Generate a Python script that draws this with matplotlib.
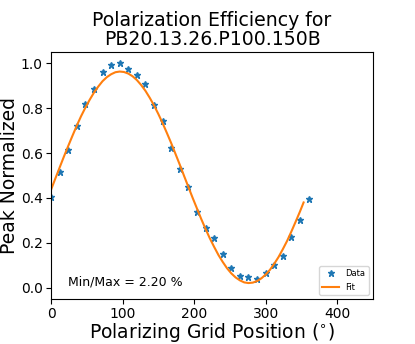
import numpy as np
import matplotlib.pyplot as plt

# grid angle (deg) and normalized peak
angle = [0, 12, 24, 36, 48, 60, 72, 84, 96, 108, 120, 132, 144, 156, 168, 180,
         192, 204, 216, 228, 240, 252, 264, 276, 288, 300, 312, 324, 336, 348, 360]
peak = [0.406, 0.514, 0.613, 0.720, 0.818, 0.884, 0.961, 0.990, 1.000, 0.976,
        0.947, 0.907, 0.813, 0.742, 0.622, 0.527, 0.450, 0.336, 0.265, 0.220,
        0.151, 0.090, 0.053, 0.050, 0.038, 0.066, 0.102, 0.142, 0.227, 0.301, 0.396]

# sinusoid fit, sampled
fit_angle = [0, 6, 12, 18, 24, 30, 36, 42, 48, 54, 60, 66, 72, 78, 84, 90, 96, 102,
             108, 114, 120, 126, 132, 138, 144, 150, 156, 162, 168, 174, 180, 186,
             192, 198, 204, 210, 216, 222, 228, 234, 240, 246, 252, 258, 264, 270,
             276, 282, 288, 294, 300, 306, 312, 318, 324, 330, 336, 342, 348, 353]
fit_peak = [0.436, 0.486, 0.535, 0.584, 0.631, 0.677, 0.722, 0.764, 0.802, 0.837,
            0.869, 0.896, 0.920, 0.938, 0.951, 0.960, 0.963, 0.961, 0.954, 0.942,
            0.925, 0.903, 0.877, 0.846, 0.812, 0.774, 0.733, 0.689, 0.644, 0.596,
            0.548, 0.498, 0.449, 0.400, 0.353, 0.306, 0.262, 0.220, 0.182, 0.146,
            0.115, 0.087, 0.064, 0.046, 0.033, 0.024, 0.021, 0.023, 0.030, 0.042,
            0.059, 0.080, 0.107, 0.137, 0.172, 0.209, 0.251, 0.295, 0.340, 0.380]

ratio_text = 'Min/Max = 2.20 %'

fig = plt.figure(figsize=(4.15, 3.44), dpi=100)
ax = fig.add_axes([0.1229, 0.1308, 0.7759, 0.718])

ax.plot(angle, peak, '*', color='tab:blue', markersize=4.5, label='Data')
ax.plot(fit_angle, fit_peak, '-', color='tab:orange', linewidth=1.5, label='Fit')

ax.set_xlim(0, 450)
ax.set_ylim(-0.05, 1.05)
ax.set_xticks([0, 100, 200, 300, 400])
ax.set_yticks([0.0, 0.2, 0.4, 0.6, 0.8, 1.0])
ax.tick_params(labelsize=10, length=3.5, pad=2.5)

ax.set_title('Polarization Efficiency for\nPB20.13.26.P100.150B', fontsize=13.6,
             linespacing=1.0, pad=5)
ax.set_xlabel('Polarizing Grid Position ($^{\\circ}$)', fontsize=13.5, labelpad=0)
ax.set_ylabel('Peak Normalized', fontsize=13.5, labelpad=1)

ax.text(0.053, 0.069, ratio_text, transform=ax.transAxes, fontsize=9, va='center')
ax.legend(loc='lower right', fontsize=6)

fig.savefig('out.png', dpi=100)
